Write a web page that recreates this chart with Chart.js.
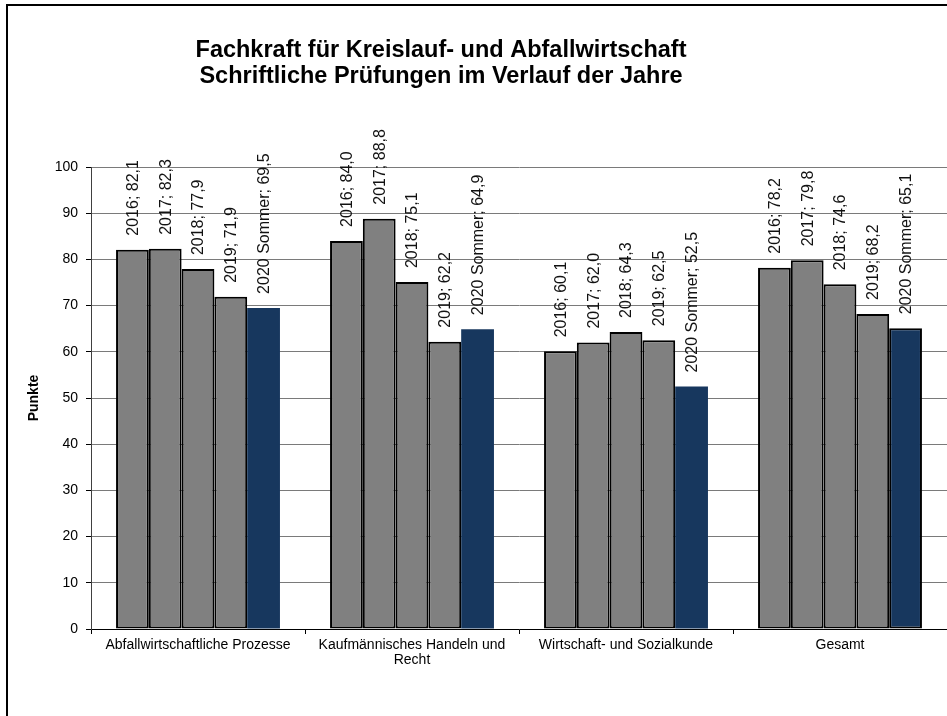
<!DOCTYPE html>
<html>
<head>
<meta charset="utf-8">
<script src="https://cdn.jsdelivr.net/npm/chart.js@4/dist/chart.umd.min.js"></script>
<style>
  html, body { margin: 0; padding: 0; background: #fff; }
  #chart { display: block; }
</style>
</head>
<body>
<canvas id="chart" width="947" height="716"></canvas>

<script>
  // Prüfungsergebnisse (Punkte) je Bereich und Jahr
  const categories = [
    'Abfallwirtschaftliche Prozesse',
    ['Kaufmännisches Handeln und', 'Recht'],
    'Wirtschaft- und Sozialkunde',
    'Gesamt'
  ];
  const years = ['2016', '2017', '2018', '2019', '2020 Sommer'];
  const values2016 = [82.1, 84.0, 60.1, 78.2];
  const values2017 = [82.3, 88.8, 62.0, 79.8];
  const values2018 = [77.9, 75.1, 64.3, 74.6];
  const values2019 = [71.9, 62.2, 62.5, 68.2];
  const values2020 = [69.5, 64.9, 52.5, 65.1];
  const titleLines = [
    'Fachkraft für Kreislauf- und Abfallwirtschaft',
    'Schriftliche Prüfungen im Verlauf der Jahre'
  ];

  const FONT = '"Liberation Sans", Arial, sans-serif';
  const GRAY = '#808080';
  const NAVY = '#17375e';

  // white background, outer frame and the two-line title
  const framePlugin = {
    id: 'frame',
    beforeDraw(chart) {
      const ctx = chart.ctx;
      ctx.save();
      ctx.fillStyle = '#fff';
      ctx.fillRect(0, 0, chart.width, chart.height);
      ctx.strokeStyle = '#000';
      ctx.lineWidth = 2;
      ctx.beginPath();
      ctx.moveTo(7, chart.height);
      ctx.lineTo(7, 5);
      ctx.lineTo(chart.width, 5);
      ctx.stroke();
      ctx.fillStyle = '#000';
      ctx.font = 'bold 23.5px ' + FONT;
      ctx.textAlign = 'center';
      ctx.textBaseline = 'alphabetic';
      ctx.fillText(titleLines[0], 441, 57);
      ctx.fillText(titleLines[1], 441, 83);
      ctx.restore();
    }
  };

  // vertical value labels "2016; 82,1" above every bar
  const valueLabels = {
    id: 'valueLabels',
    afterDatasetsDraw(chart) {
      const ctx = chart.ctx;
      ctx.save();
      ctx.font = '16px ' + FONT;
      ctx.fillStyle = '#111';
      ctx.textAlign = 'left';
      ctx.textBaseline = 'middle';
      chart.data.datasets.forEach((ds, i) => {
        chart.getDatasetMeta(i).data.forEach((bar, j) => {
          const txt = ds.label + '; ' + ds.data[j].toFixed(1).replace('.', ',');
          ctx.save();
          ctx.translate(bar.x + 1, bar.y - 14);
          ctx.rotate(-Math.PI / 2);
          ctx.fillText(txt, 0, 0);
          ctx.restore();
        });
      });
      ctx.restore();
    }
  };

  const series = [values2016, values2017, values2018, values2019, values2020];
  const datasets = series.map((vals, i) => {
    const last = i === series.length - 1;
    return {
      label: years[i],
      data: vals,
      backgroundColor: last ? NAVY : GRAY,
      borderColor: '#000',
      borderWidth: last ? [0, 0, 0, 2] : 2,
      borderSkipped: false
    };
  });

  new Chart(document.getElementById('chart').getContext('2d'), {
    type: 'bar',
    data: { labels: categories, datasets: datasets },
    options: {
      responsive: false,
      animation: false,
      layout: { padding: { top: 167, left: 0, right: 0, bottom: 0 } },
      datasets: { bar: { categoryPercentage: 0.766, barPercentage: 1.0 } },
      plugins: {
        legend: { display: false },
        tooltip: { enabled: false },
        title: { display: false }
      },
      scales: {
        x: {
          afterFit(scale) { scale.height = 87; },
          grid: {
            display: true,
            drawOnChartArea: false,
            drawTicks: true,
            tickLength: 5,
            color: '#000',
            offset: true
          },
          border: { display: true, color: '#000', width: 1 },
          ticks: {
            color: '#000',
            padding: 3,
            maxRotation: 0,
            autoSkip: false,
            font: { family: FONT, size: 14, lineHeight: 1.1 }
          }
        },
        y: {
          min: 0,
          max: 100,
          afterFit(scale) { scale.width = 91; },
          grid: { color: '#7a7a7a', lineWidth: 1, tickLength: 5, tickColor: '#000' },
          border: { display: true, color: '#404040', width: 1 },
          ticks: {
            stepSize: 10,
            color: '#000',
            padding: 8,
            font: { family: FONT, size: 14 }
          },
          title: {
            display: true,
            text: 'Punkte',
            color: '#000',
            padding: { top: 26, bottom: 0 },
            font: { family: FONT, size: 14, weight: 'bold' }
          }
        }
      }
    },
    plugins: [framePlugin, valueLabels]
  });
</script>
</body>
</html>
